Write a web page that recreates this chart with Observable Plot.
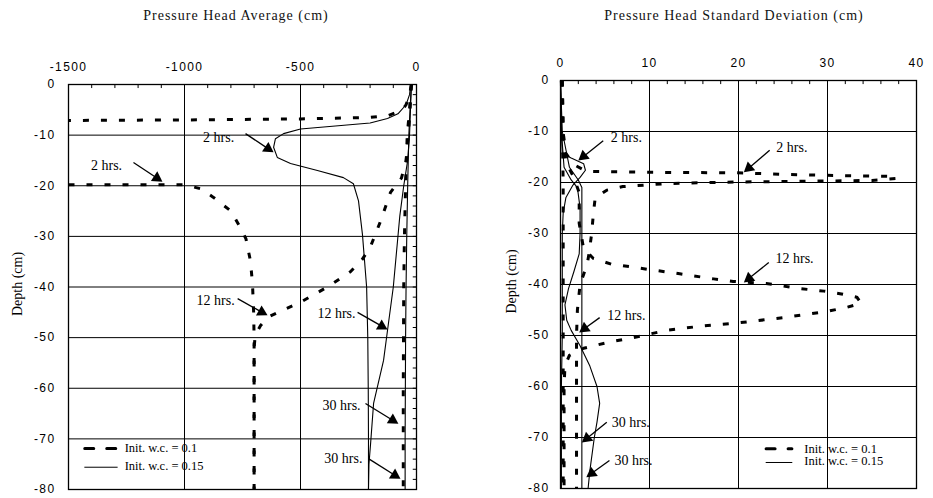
<!DOCTYPE html>
<html><head><meta charset="utf-8">
<script src="https://cdn.jsdelivr.net/npm/d3@7"></script>
<script src="https://cdn.jsdelivr.net/npm/@observablehq/plot@0.6"></script>
<style>
body{margin:0;background:#fff;}
#wrap{position:relative;width:933px;height:498px;overflow:hidden;background:#fff;}
.title{position:absolute;top:8px;font-family:"Liberation Serif",serif;font-size:14px;letter-spacing:1px;color:#111;white-space:nowrap;transform:translateX(-50%);}
.panel{position:absolute;top:0;}
</style></head><body><div id="wrap"></div>
<script>
// ---------- Data: left panel (pressure head average, cm) [value, depth] ----------
const avgDash2hA = [[-22,0],[-30,-2],[-45,-4],[-60,-5],[-120,-6.1],[-200,-6.5],[-500,-6.8],[-1000,-7],[-1500,-7.1]];
const avgDash2hB = [[-1500,-19.8],[-1000,-19.8],[-930,-20.6],[-875,-22.3],[-800,-25],[-760,-28.2],[-735,-30.5],[-716,-34.8],[-707,-39.3],[-702,-45],[-700,-50],[-700,-60],[-700,-70],[-700,-80]];
const avgDash12h = [[-22,0],[-28,-5],[-35,-10],[-45,-15],[-65,-18.5],[-112,-21.3],[-155,-27],[-198,-32],[-233,-34.5],[-285,-37],[-384,-40],[-500,-43],[-573,-44.5],[-642,-46],[-672,-47.6],[-695,-49.5],[-700,-52],[-700,-60],[-700,-80]];
const avgDash30h = [[-22,0],[-30,-5],[-40,-10],[-47,-20],[-52,-30],[-55,-40],[-56,-50],[-57,-60],[-57,-70],[-57,-80]];
const avgSolid2h = [[-25,0],[-30,-2],[-45,-4],[-80,-5.8],[-125,-6.7],[-200,-7.6],[-350,-8.2],[-500,-8.8],[-573,-9.7],[-608,-10.7],[-616,-12.4],[-600,-14.4],[-543,-15.6],[-427,-17],[-315,-18.4],[-272,-19.6],[-250,-23],[-233,-29.6],[-215,-40],[-210,-50],[-208,-60],[-207,-70],[-207,-80]];
const avgSolid12h = [[-22,0],[-26,-5],[-30,-10],[-38,-15],[-55,-20],[-72,-26],[-82,-31],[-100,-40],[-125,-48.6],[-142,-54.5],[-185,-63],[-198,-71],[-205,-75],[-207,-80]];
const avgSolid30h = [[-22,0],[-28,-5],[-33,-10],[-38,-20],[-42,-30],[-45,-40],[-47,-50],[-48,-60],[-49,-70],[-49,-80]];

// ---------- Data: right panel (pressure head standard deviation, cm) ----------
const sdDash2h = [[0.2,0],[0.3,-10],[0.5,-14],[1.5,-16.5],[2.9,-17.8],[10,-18],[19.8,-18.1],[25,-18.4],[30,-18.6],[37.5,-18.8],[37.8,-19.2],[35,-19.6],[30,-19.7],[20,-19.9],[12,-20.2],[7,-20.8],[5.2,-21.5],[3.9,-23],[3.7,-26],[3.5,-30],[3.2,-34],[3.0,-36],[2.2,-40],[1.9,-45],[1.8,-50],[1.8,-60],[1.8,-70],[1.8,-80]];
const sdDash12h = [[0.2,0],[0.3,-10],[0.6,-16],[1.5,-19],[2.1,-22],[2.1,-28],[2.6,-33],[3.7,-34.9],[5.7,-36],[7.8,-36.5],[9.7,-37],[13.4,-37.9],[17.2,-38.9],[19.4,-39.4],[23.1,-39.8],[26.9,-40.8],[29.6,-41.3],[31.4,-41.8],[33.3,-42.5],[33.8,-43.7],[32.1,-44.5],[29.9,-45.3],[25,-46.5],[20.1,-47.5],[15.6,-48.2],[11.9,-49],[8.2,-50.4],[5.2,-51.4],[2.6,-52.5],[1,-53.9],[0.5,-56],[0.4,-60],[0.4,-70],[0.4,-80]];
const sdDash30h = [[0.1,0],[0.2,-10],[0.3,-20],[0.3,-30],[0.3,-40],[0.3,-50],[0.3,-60],[0.3,-70],[0.3,-80]];
const sdSolid2h = [[0,0],[0.1,-10],[0.2,-14.3],[1.2,-15.2],[2.6,-16.3],[2.8,-17.6],[2.2,-19],[1.4,-20.5],[0.6,-23],[0.3,-26],[0.2,-30],[0.2,-40],[0.2,-50],[0.1,-60],[0.1,-70],[0.1,-80]];
const sdSolid12h = [[0,0],[0.1,-10],[0.4,-17],[1.2,-19.5],[1.9,-21],[2.2,-25],[2.2,-30],[2.1,-34],[1.5,-37.5],[0.9,-40.8],[0.5,-44],[0.7,-47],[1.2,-49],[2.2,-52],[3.3,-56],[4.1,-60],[4.4,-63.3],[4.1,-67],[3.8,-70],[3.3,-76.5],[3.1,-80]];
const sdSolid30h = [[0,0],[0.2,-10],[1,-17],[2,-19.5],[2.4,-21],[2.4,-30],[2.4,-40],[2.4,-50],[2.4,-60],[2.4,-70],[2.4,-80]];

// ---------- Ticks and labels ----------
const depthTicks = [0,-10,-20,-30,-40,-50,-60,-70,-80];
const avgTicks = [-1500,-1000,-500,0];
const sdTicks = [0,10,20,30,40];
const titles = ["Pressure Head Average (cm)", "Pressure Head Standard Deviation (cm)"];
const yLabel = "Depth (cm)";
const legendLabels = ["Init. w.c. = 0.1", "Init. w.c. = 0.15"];

// annotations: [text, textX, textY, fromX, fromY, tipX, tipY]
const avgNotes = [
  ["2 hrs.", -853, -10.5, -737, -9.7, -616, -13.4],
  ["2 hrs.", -1336, -16, -1220, -15.4, -1095, -19.2],
  ["12 hrs.", -866, -42.7, -771, -42.3, -642, -45.6],
  ["12 hrs.", -345, -45.3, -254, -45, -125, -48.4],
  ["30 hrs.", -323, -63.4, -220, -63, -78, -67],
  ["30 hrs.", -315, -73.9, -207, -73.9, -69, -77.9]
];
const sdNotes = [
  ["2 hrs.", 7.4, -11.2, 4.8, -11.8, 2.0, -15.7],
  ["2 hrs.", 26, -13.1, 23.5, -13.7, 20.6, -18],
  ["12 hrs.", 26.3, -34.9, 23.4, -35.7, 20.6, -39.6],
  ["12 hrs.", 7.4, -46, 4.4, -46.5, 2.1, -49.4],
  ["30 hrs.", 7.9, -67, 5.2, -67, 2.4, -71],
  ["30 hrs.", 8.2, -74.5, 5.5, -74.5, 2.9, -77.8]
];

const SERIF = "Liberation Serif, Times New Roman, serif";
const SANS = "Liberation Sans, Arial, sans-serif";
const DASH = "6,12";

function arrowMarks(notes, sx, sy) {
  const heads = notes.map(n => {
    const [ , , , x1, y1, x2, y2] = n;
    const px1 = sx(x1), py1 = sy(y1), px2 = sx(x2), py2 = sy(y2);
    const ang = Math.atan2(py2 - py1, px2 - px1);
    const back = 6.7;
    const cx = px2 - Math.cos(ang) * back, cy = py2 - Math.sin(ang) * back;
    return {x1, y1, x: sx.invert(cx), y: sy.invert(cy), rot: ang * 180 / Math.PI + 90};
  });
  return [
    Plot.link(heads, {x1: "x1", y1: "y1", x2: "x", y2: "y", stroke: "#000", strokeWidth: 1.3}),
    Plot.dot(heads, {x: "x", y: "y", symbol: "triangle", r: 4.3, fill: "#000", stroke: null, rotate: "rot"}),
    Plot.text(notes, {x: d => d[1], y: d => d[2], text: d => d[0], fontSize: 14, fontFamily: SERIF, fill: "#000"})
  ];
}

function panel(o) {
  const sx = d3.scaleLinear(o.xDomain, [o.mL, o.width - o.mR]);
  const sy = d3.scaleLinear([-80, 0], [o.height - o.mB, o.mT]);
  const line = (data, dashed) => Plot.line(data, {x: d => d[0], y: d => d[1], stroke: "#000",
    strokeWidth: dashed ? 3 : 1.1, strokeDasharray: dashed ? DASH : null, strokeLinecap: "butt"});
  const svg = Plot.plot({
    width: o.width, height: o.height,
    marginLeft: o.mL, marginRight: o.mR, marginTop: o.mT, marginBottom: o.mB,
    x: {domain: o.xDomain},
    y: {domain: [-80, 0]},
    style: {background: "transparent", color: "#000"},
    marks: [
      Plot.gridX(o.xTicks.slice(1, -1), {stroke: "#000", strokeOpacity: 1, strokeWidth: 1}),
      Plot.gridY(depthTicks.slice(1, -1), {stroke: "#000", strokeOpacity: 1, strokeWidth: 1}),
      Plot.ruleX(o.minorX, {x: d => d, y1: 0, y2: -0.8, stroke: "#000", strokeWidth: 1}),
      ...(o.rightTicks ? [Plot.ruleY(o.rightTicks, {y: d => d, x1: o.xDomain[1], x2: o.xDomain[1] - o.tickLen, stroke: "#000", strokeWidth: 1})] : []),
      Plot.frame({stroke: "#000", strokeWidth: 1.3}),
      Plot.axisX(o.xTicks, {anchor: "top", tickSize: 0, tickPadding: 14, tickFormat: d => String(d), fontSize: 12, fontFamily: SANS, label: null}),
      Plot.axisY(depthTicks, {anchor: "left", tickSize: 0, tickPadding: o.yPad, tickFormat: d => String(d), fontSize: 12, fontFamily: SANS, label: null}),
      ...o.series.map(s => line(s.data, s.dashed)),
      ...arrowMarks(o.notes, sx, sy),
      Plot.text([yLabel], {frameAnchor: "left", textAnchor: "middle", rotate: -90, dx: o.labelDx, dy: -3, fontSize: 14, fontFamily: SERIF, fill: "#000"}),
      // legend
      Plot.line([[o.leg.x1, o.leg.y1], [o.leg.x2, o.leg.y1]], {x: d => d[0], y: d => d[1], stroke: "#000", strokeWidth: 3, strokeDasharray: "9,13"}),
      Plot.line([[o.leg.x1, o.leg.y2], [o.leg.x2, o.leg.y2]], {x: d => d[0], y: d => d[1], stroke: "#000", strokeWidth: 1}),
      Plot.text([legendLabels[0]], {x: o.leg.tx, y: o.leg.y1, text: d => d, textAnchor: "start", fontSize: 12.5, fontFamily: SERIF, fill: "#000"}),
      Plot.text([legendLabels[1]], {x: o.leg.tx, y: o.leg.y2 + 0.3, text: d => d, textAnchor: "start", fontSize: 12.5, fontFamily: SERIF, fill: "#000"})
    ]
  });
  d3.select(svg).selectAll("g").filter(function() {
    const a = this.getAttribute("aria-label") || "";
    return a.indexOf("tick label") >= 0;
  }).selectAll("text").style("letter-spacing", "1.4px");
  return svg;
}

const wrap = document.getElementById("wrap");

const left = panel({
  width: 466, height: 498, mL: 68, mR: 50, mT: 84, mB: 9,
  xDomain: [-1500, 0], xTicks: avgTicks, yPad: 13, labelDx: -51,
  minorX: d3.range(-1400, 0, 100).filter(v => v % 500 !== 0),
  rightTicks: d3.range(-2, -80, -2), tickLen: 14,
  series: [
    {data: avgDash2hA, dashed: true}, {data: avgDash2hB, dashed: true},
    {data: avgDash12h, dashed: true}, {data: avgDash30h, dashed: true},
    {data: avgSolid2h, dashed: false}, {data: avgSolid12h, dashed: false}, {data: avgSolid30h, dashed: false}
  ],
  notes: avgNotes,
  leg: {x1: -1430, x2: -1290, y1: -71.9, y2: -75.6, tx: -1258}
});
left.classList.add("panel"); left.style.left = "0px";
wrap.appendChild(left);

const right = panel({
  width: 467, height: 498, mL: 94, mR: 17, mT: 80, mB: 10,
  xDomain: [0, 40], xTicks: sdTicks, yPad: 11, labelDx: -49,
  minorX: d3.range(2, 40, 2).filter(v => v % 10 !== 0),
  rightTicks: null,
  series: [
    {data: sdDash2h, dashed: true}, {data: sdDash12h, dashed: true}, {data: sdDash30h, dashed: true},
    {data: sdSolid2h, dashed: false}, {data: sdSolid12h, dashed: false}, {data: sdSolid30h, dashed: false}
  ],
  notes: sdNotes,
  leg: {x1: 23.1, x2: 26, y1: -72.2, y2: -74.9, tx: 27.4}
});
right.classList.add("panel"); right.style.left = "466px";
wrap.appendChild(right);

[[titles[0], 236], [titles[1], 734]].forEach(([t, cx]) => {
  const d = document.createElement("div");
  d.className = "title"; d.textContent = t; d.style.left = cx + "px";
  wrap.appendChild(d);
});
</script>
</body></html>
